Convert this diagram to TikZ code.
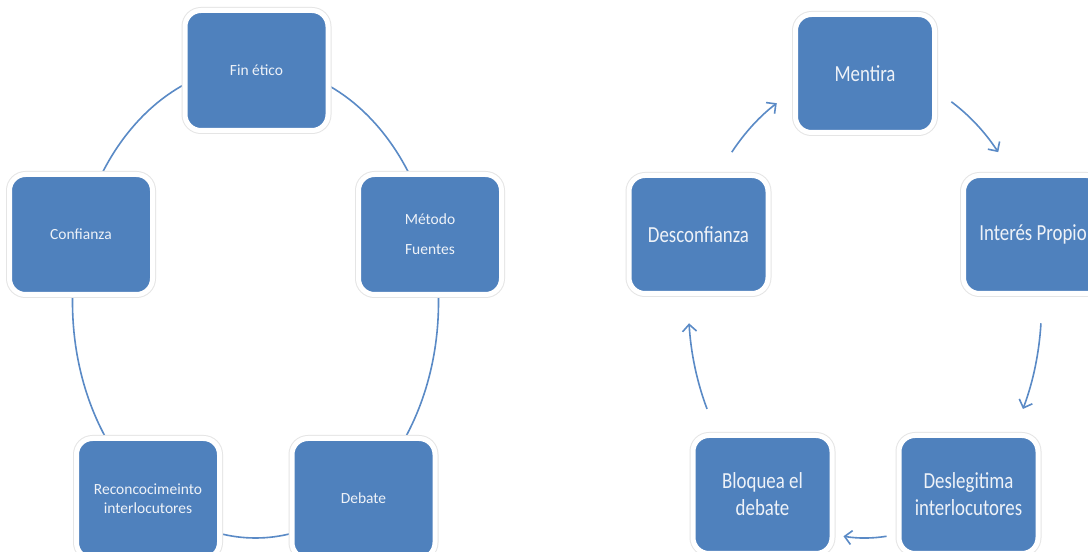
\documentclass[tikz,border=0pt]{standalone}
\usepackage{fontspec}
\setmainfont{Carlito}
\newfontfamily\rfont[FakeStretch=0.82]{Carlito}
\usetikzlibrary{arrows.meta,calc}
\definecolor{boxblue}{HTML}{4F81BD}
\definecolor{linkblue}{HTML}{5A8AC6}
\definecolor{txt}{HTML}{EEF2F8}
\begin{document}
\begin{tikzpicture}[x=1pt,y=1pt,
  box/.style={rounded corners=16pt, fill=boxblue, draw=white, line width=5pt,
    preaction={draw=black!10, line width=7pt}, text=txt, align=center, inner sep=0pt},
  lbox/.style={box, minimum width=143pt, minimum height=120pt, font=\fontsize{15.5}{19}\selectfont},
  rbox/.style={box, minimum width=139pt, minimum height=118pt, font=\rfont\fontsize{23}{27}\selectfont},
  cyc/.style={draw=linkblue, line width=1.6pt},
  arr/.style={cyc, -{Straight Barb[length=7pt,width=14pt]}}]
\useasboundingbox (0,0) rectangle (1088,552);
\clip (0,0) rectangle (1088,552);
\fill[white] (0,0) rectangle (1088,552);

% left cycle
\coordinate (lc) at (255.5,250);
\draw[cyc] (lc) ellipse[x radius=183, y radius=236];
\node[lbox] (fin) at (256.5,481.5) {Fin ético};
\node[lbox] (conf) at (81,317.5) {Confianza};
\node[lbox] (met) at (430,317.5) {Método\\[11pt]Fuentes};
\node[lbox] (rec) at (148,53.5) {Reconcocimeinto\\interlocutores};
\node[lbox] (deb) at (363.5,53.5) {Debate};

% right cycle
\coordinate (rc) at (865,247);
\node[rbox] (men) at (865,478.5) {Mentira};
\node[rbox] (int) at (1033,317.5) {Interés Propio};
\node[rbox] (des) at (698.5,317.5) {Desconfianza};
\node[rbox] (dsl) at (968.5,57.5) {Deslegitima\\interlocutores};
\node[rbox] (blo) at (762.5,57.5) {Bloquea el\\debate};

\draw[arr] ($(rc)+(139:176.5 and 233)$) arc[start angle=139, end angle=120, x radius=176.5, y radius=233];
\draw[arr] ($(rc)+(60.7:176.5 and 233)$) arc[start angle=60.7, end angle=41, x radius=176.5, y radius=233];
\draw[arr] ($(rc)+(-4.5:176.5 and 233)$) arc[start angle=-4.5, end angle=-26.5, x radius=176.5, y radius=233];
\draw[arr] ($(rc)+(-83:176.5 and 233)$) arc[start angle=-83, end angle=-97, x radius=176.5, y radius=233];
\draw[arr] ($(rc)+(206.5:176.5 and 233)$) arc[start angle=206.5, end angle=184.5, x radius=176.5, y radius=233];
\end{tikzpicture}
\end{document}
